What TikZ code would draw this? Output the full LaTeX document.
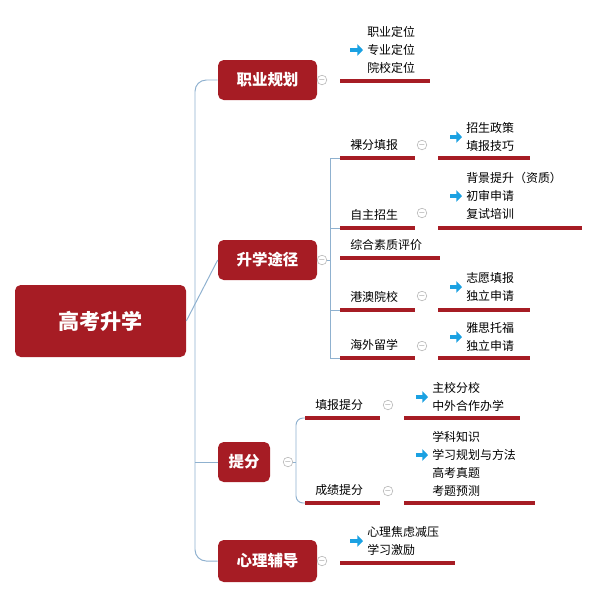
\documentclass[tikz,border=0pt]{standalone}
\usepackage{fontspec}
\setmainfont{Noto Sans CJK SC}
\usetikzlibrary{arrows.meta}
\definecolor{boxred}{HTML}{A61C24}
\definecolor{linkblue}{HTML}{8FB1CF}
\definecolor{tipblue}{HTML}{1BA1E2}
\tikzset{
  mainbox/.style={fill=boxred, text=white, rounded corners=4pt, inner sep=0pt, font=\bfseries\fontsize{11}{12}\selectfont},
  leaf/.style={anchor=west, inner sep=0pt, font=\fontsize{8.5}{9}\selectfont},
  uline/.style={boxred, line width=2.2pt},
  link/.style={linkblue, line width=0.7pt},
  fold/.style={circle, draw=gray!60, inner sep=0pt, minimum size=6pt, font=\fontsize{4}{4}\selectfont, text=gray},
  pointer/.style={tipblue, line width=2.6pt, -{Triangle[length=4pt,width=8pt]}}
}
\begin{document}
\begin{tikzpicture}[x=0.025cm,y=-0.025cm]
\useasboundingbox (0,0) rectangle (600,600);
% root and main branches
\node[mainbox, minimum width=171*0.025cm, minimum height=72*0.025cm, font=\bfseries\fontsize{15}{16}\selectfont] (root) at (100.5,321) {高考升学};
\node[mainbox, minimum width=99*0.025cm, minimum height=40*0.025cm] (plan) at (267.5,80) {职业规划};
\node[mainbox, minimum width=99*0.025cm, minimum height=40*0.025cm] (route) at (267.5,260) {升学途径};
\node[mainbox, minimum width=52*0.025cm, minimum height=40*0.025cm] (score) at (244,462) {提分};
\node[mainbox, minimum width=99*0.025cm, minimum height=42*0.025cm] (mind) at (267.5,561) {心理辅导};
\draw[link, rounded corners=8pt] (plan.west) -| (195,321) |- (mind.west);
\draw[link] (root.east) -- (route.west);
\draw[link] (195,462) -- (score.west);
\node[fold] (fplan) at (322,80) {$-$};
\node[fold] (froute) at (322,260) {$-$};
\node[fold] (fscore) at (288,462) {$-$};
\node[fold] (fmind) at (322,561) {$-$};
% leaves of main branches
\draw[uline] (340,81) -- (430,81);
\draw[uline] (340,563) -- (455,563);
\foreach \t [count=\i] in {职业定位,专业定位,院校定位}
  \node[leaf] (p\i) at (367,14+18*\i) {\t};
\draw[pointer] (p2.west) ++(-17,0) -- ++(13,0);
\foreach \t [count=\i] in {心理焦虑减压,学习激励}
  \node[leaf] (m\i) at (367,514+18*\i) {\t};
\draw[pointer] (m1.west) ++(-17,9) -- ++(13,0);
% second level
\draw[link] (froute.east) -- (330,260);
\draw[link] (330,158) -- (330,358);
\draw[link] (fscore.east) -- (296,462);
\draw[link, rounded corners=5pt] (305,418) -| (296,503) -- (305,503);
\foreach \name/\t/\x/\y/\a/\b in {
    lf/裸分填报/340/158/340/415, zz/自主招生/340/228/340/415,
    zh/综合素质评价/340/258/340/440, ga/港澳院校/340/310/340/415,
    hw/海外留学/340/358/340/415, tb/填报提分/305/418/305/380,
    cj/成绩提分/305/503/305/380} {
  \draw[uline] (\a,\y) -- (\b,\y);
  \node[leaf] (\name) at (\x+10,\y-13) {\t};
}
\foreach \y in {158,228,310,358} \draw[link] (330,\y) -- (340,\y);
\foreach \name/\x/\y in {lf/422/145, zz/422/213, ga/422/296, hw/422/346, tb/388/405, cj/388/491}
  \node[fold] (f\name) at (\x,\y) {$-$};
% third level
\foreach \y/\a/\b in {158/438/530, 228/438/582, 310/438/530, 358/438/530, 418/404/520, 503/404/535}
  \draw[uline] (\a,\y) -- (\b,\y);
\foreach \t [count=\i] in {招生政策,填报技巧} \node[leaf] (lf\i) at (466,110+18*\i) {\t};
\foreach \t [count=\i] in {背景提升（资质）,初审申请,复试培训} \node[leaf] (zz\i) at (466,160+18*\i) {\t};
\foreach \t [count=\i] in {志愿填报,独立申请} \node[leaf] (ga\i) at (466,260+18*\i) {\t};
\foreach \t [count=\i] in {雅思托福,独立申请} \node[leaf] (hw\i) at (466,310+18*\i) {\t};
\foreach \t [count=\i] in {主校分校,中外合作办学} \node[leaf] (tb\i) at (432,370+18*\i) {\t};
\foreach \t [count=\i] in {学科知识,学习规划与方法,高考真题,考题预测} \node[leaf] (cj\i) at (432,419+18*\i) {\t};
\foreach \n/\d in {lf1/9, zz2/0, ga1/9, hw1/9, tb1/9, cj2/0}
  \draw[pointer] (\n.west) ++(-16,\d) -- ++(12,0);
\end{tikzpicture}
\end{document}
